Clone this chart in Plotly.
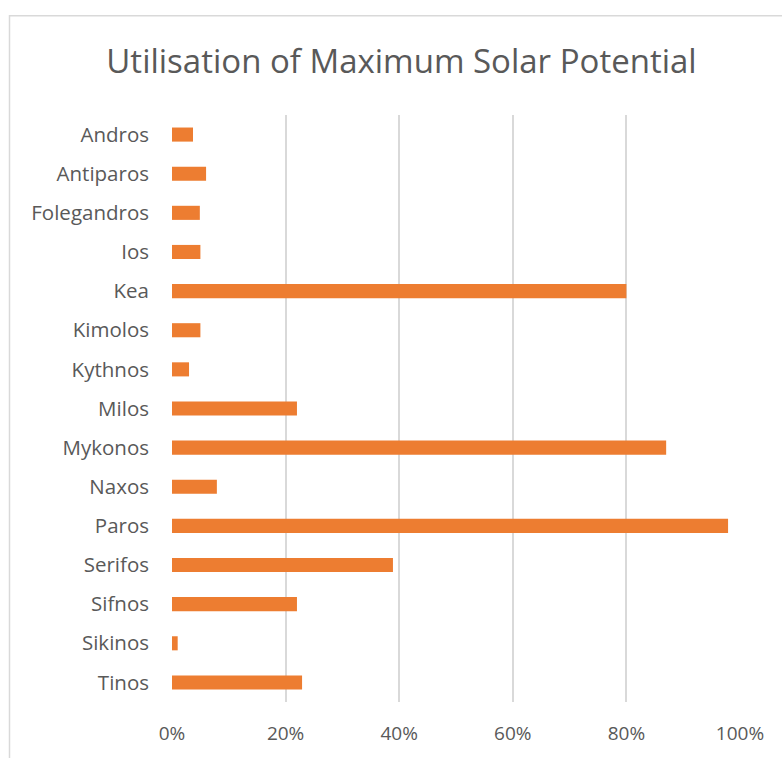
import plotly.graph_objects as go

islands = ["Andros", "Antiparos", "Folegandros", "Ios", "Kea", "Kimolos", "Kythnos",
           "Milos", "Mykonos", "Naxos", "Paros", "Serifos", "Sifnos", "Sikinos", "Tinos"]
utilisation = [0.037, 0.06, 0.049, 0.05, 0.80, 0.05, 0.03,
               0.22, 0.87, 0.079, 0.979, 0.389, 0.22, 0.01, 0.229]
x_ticks = [0, 0.2, 0.4, 0.6, 0.8, 1.0]

W, H = 782, 758
L, R, T, B = 172, 42, 115, 54
pw, ph = W - L - R, H - T - B

fig = go.Figure(go.Bar(
    y=islands, x=utilisation, orientation="h",
    marker=dict(color="#ED7D31", line=dict(width=0)),
))

font_family = "Open Sans, Noto Sans, sans-serif"
fig.update_layout(
    width=W, height=H,
    margin=dict(l=L, r=R, t=T, b=B),
    paper_bgcolor="white", plot_bgcolor="white",
    bargap=0.64,
    font=dict(family=font_family, color="#595959"),
    title=dict(text="Utilisation of Maximum Solar Potential",
               x=401.5 / W, xanchor="center", xref="container",
               y=1 - 61 / H, yanchor="middle", yref="container",
               font=dict(size=33, color="#595959", family=font_family)),
    showlegend=False,
)
fig.update_xaxes(range=[0, 1], tickvals=x_ticks, tickformat=".0%",
                 showgrid=True, gridcolor="#d9d9d9", gridwidth=1.5,
                 zeroline=False, showline=False, ticks="",
                 tickfont=dict(size=19, color="#595959"),
                 ticklabelstandoff=18)
fig.update_yaxes(autorange="reversed", showgrid=False, zeroline=False,
                 showline=False, ticks="",
                 tickfont=dict(size=20.5, color="#595959"),
                 ticklabelstandoff=22)

# chart border (only top and left edges visible in the frame)
fig.add_shape(type="rect", xref="paper", yref="paper",
              x0=(9.5 - L) / pw, x1=(W + 20 - L) / pw,
              y0=-(H + 20 - (H - B)) / ph, y1=1 + (T - 15.5) / ph,
              line=dict(color="#d9d9d9", width=1.5), fillcolor="rgba(0,0,0,0)",
              layer="below")

fig.write_html("out.html")
